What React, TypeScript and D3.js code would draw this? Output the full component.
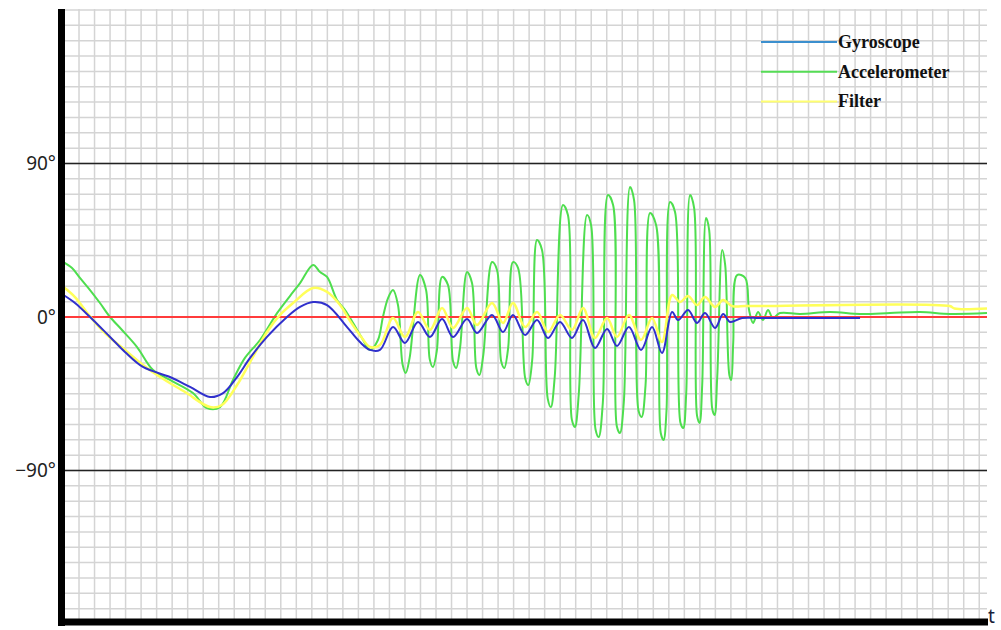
import * as d3 from "d3";
import { useEffect, useRef } from "react";

const width = 1001;
const height = 630;

// time in grid cells, angle in degrees
const gyroscope: [number, number][] = [
  [0.0, 12.9], [0.74, 8.2], [1.71, 0], [3.0, -11.7], [3.96, -20.5], [5.12, -29.3],
  [6.86, -35.2], [8.15, -41.0], [9.44, -46.9], [10.28, -44.6], [11.18, -35.2],
  [12.02, -24.0], [13.11, -11.7], [14.4, 0], [15.24, 5.9], [16.08, 8.8], [16.98, 7.0],
  [18.27, -5.9], [19.1, -14.7], [19.75, -19.3], [20.39, -19.3], [21.23, -5.9],
  [22.0, -15.2], [22.84, -2.9], [23.61, -11.7], [24.39, -1.2], [25.1, -11.7],
  [26.0, -1.2], [26.64, -9.4], [27.61, 1.2], [28.32, -8.8], [28.96, 1.2],
  [29.74, -10.6], [30.51, -1.8], [31.22, -12.3], [31.99, -2.9], [32.76, -12.3],
  [33.47, -1.8], [34.24, -18.2], [35.02, -7.0], [35.66, -17.0], [36.43, -5.9],
  [37.21, -19.3], [37.92, -5.9], [38.56, -21.1], [39.21, 2.9], [39.6, -1.8],
  [40.24, 4.1], [40.82, -3.5], [41.33, 2.3], [41.98, -6.4], [42.5, 1.8],
  [42.95, -2.9], [43.72, -0.6], [44.88, -0.6], [47.46, -0.6], [51.32, -0.6],
];

const accelerometer: [number, number][] = [
  [0.0, 32.2], [0.55, 28.7], [1.06, 22.9], [1.71, 15.8], [2.35, 8.2], [3.0, 0],
  [3.77, -7.6], [4.74, -17.6], [5.77, -31.1], [6.86, -36.9], [8.34, -44.6],
  [9.25, -53.4], [10.08, -52.8], [10.92, -36.9], [11.69, -24.0], [12.66, -13.5],
  [13.76, 2.3], [14.59, 12.3], [15.24, 19.9], [16.08, 30.5], [16.53, 26.4],
  [16.98, 23.5], [17.62, 10.0], [18.14, 4.1], [18.66, -3.5], [19.23, -12.3],
  [19.75, -19.3], [20.26, -13.5], [20.58, 0], [20.91, 11.1], [21.23, 15.8],
  [21.55, 7.0], [21.85, -28], [22.05, -32.8], [22.3, -24],
  [22.97, 24.6], [23.36, 15.8], [23.6, -25], [23.8, -29.3], [24.05, -20],
  [24.39, 23.5], [24.77, 18.8], [25.1, -26], [25.3, -29.9], [25.55, -18],
  [26.0, 26.4], [26.32, 19.9], [26.6, -30], [26.8, -34.0], [27.05, -22],
  [27.61, 32.2], [27.93, 27.6], [28.2, -26], [28.4, -29.9], [28.65, -18],
  [28.96, 32.2], [29.29, 28.7], [29.75, -36], [29.95, -39.9], [30.2, -25],
  [30.51, 45.1], [30.83, 39.3], [31.2, -48], [31.4, -52.8], [31.65, -35],
  [32.18, 65.7], [32.5, 59.8], [32.75, -60], [32.95, -64.5], [33.2, -45],
  [33.73, 59.8], [33.99, 53.9], [34.28, -66], [34.48, -70.4], [34.75, -50],
  [35.08, 71.5], [35.41, 65.7], [35.65, -64], [35.85, -68.0], [36.1, -50],
  [36.5, 76.2], [36.76, 68.6], [37.05, -55], [37.25, -58.6], [37.5, -40],
  [37.79, 61.0], [38.18, 53.9], [38.48, -68], [38.66, -72.1], [38.85, -55],
  [39.08, 67.4], [39.4, 61.6], [39.75, -62], [39.93, -65.1], [40.12, -45],
  [40.37, 71.5], [40.63, 63.9], [40.82, -58], [40.98, -62.1], [41.15, -40],
  [41.4, 58.0], [41.6, 51.0], [41.8, -54], [41.95, -57.5], [42.12, -35],
  [42.44, 39.3], [42.63, 30.5], [42.9, -34], [43.02, -36.9], [43.15, -15],
  [43.4, 24.6], [43.92, 22.9], [44.17, 4.1], [44.43, -3.5], [44.75, 2.9],
  [45.07, -1.8], [45.39, 4.1], [45.71, -0.6], [46.16, 2.3], [47.46, 1.8],
  [49.39, 2.9], [51.32, 1.8], [53.25, 2.3], [55.19, 2.9], [57.12, 1.8], [59.5, 2.3],
];

const filter: [number, number][] = [
  [0.0, 17.6], [0.74, 11.7], [1.58, 1.8], [2.67, -9.4], [3.96, -19.3], [5.12, -28.1],
  [6.22, -35.2], [7.83, -44.0], [9.44, -52.8], [10.21, -51.6], [11.18, -39.9],
  [12.02, -26.4], [13.11, -8.8], [13.95, 1.2], [14.79, 8.2], [16.08, 17.0],
  [16.98, 14.7], [17.82, 7.0], [18.46, -2.3], [19.23, -12.3], [19.75, -17.6],
  [20.39, -16.4], [21.23, -0.6], [22.0, -11.7], [22.84, 2.9], [23.61, -7.6],
  [24.39, 5.3], [25.1, -6.4], [26.0, 5.3], [26.64, -4.7], [27.61, 8.2],
  [28.32, -3.5], [28.96, 8.2], [29.74, -5.9], [30.51, 2.9], [31.22, -8.8],
  [31.99, 1.2], [32.76, -7.6], [33.47, 5.3], [34.24, -12.3], [35.02, -0.6],
  [35.66, -11.7], [36.43, 1.2], [37.21, -13.5], [37.92, -0.6], [38.56, -14.7],
  [39.21, 12.9], [39.72, 8.8], [40.24, 12.3], [40.82, 7.0], [41.33, 11.7],
  [41.98, 5.9], [42.5, 10.0], [43.08, 6.4], [43.92, 6.4], [44.88, 6.4],
  [57.1, 6.4], [57.4, 5.0], [59.5, 5.0],
];

const yLabels = [
  { value: 90, text: "90°" },
  { value: 0, text: "0°" },
  { value: -90, text: "\u221290°" },
];

const legendKeys = ["Gyroscope", "Accelerometer", "Filter"];
const legendColors = ["#3b8fce", "#55dd55", "#ffff70"];

function drawChart(node: SVGSVGElement) {
  const svg = d3.select(node);
  svg.selectAll("*").remove();

  const x = d3.scaleLinear().domain([0, 59.5]).range([63.5, 987]);
  const y = d3.scaleLinear().domain([-180, 180]).range([624, 10]);

  svg.append("rect").attr("width", width).attr("height", height).attr("fill", "white");

  // grid
  const grid = svg.append("g").attr("stroke", "#d4d4d4").attr("stroke-width", 1.5);
  grid
    .selectAll("line.vx")
    .data(d3.range(1, 60))
    .enter()
    .append("line")
    .attr("x1", (d) => x(d))
    .attr("x2", (d) => x(d))
    .attr("y1", 9)
    .attr("y2", 620);
  grid
    .selectAll("line.hy")
    .data(d3.range(-171, 181, 9))
    .enter()
    .append("line")
    .attr("x1", 64)
    .attr("x2", 987)
    .attr("y1", (d) => y(d))
    .attr("y2", (d) => y(d));

  // +-90 lines
  svg
    .selectAll("line.ref")
    .data([90, -90])
    .enter()
    .append("line")
    .attr("x1", 64)
    .attr("x2", 987)
    .attr("y1", (d) => y(d))
    .attr("y2", (d) => y(d))
    .attr("stroke", "#222")
    .attr("stroke-width", 1.5);

  const line = d3
    .line<[number, number]>()
    .x((d) => x(d[0]))
    .y((d) => y(d[1]))
    .curve(d3.curveCatmullRom.alpha(0.5));

  svg
    .append("path")
    .attr("d", line(accelerometer))
    .attr("fill", "none")
    .attr("stroke", "#4ede4e")
    .attr("stroke-width", 2);

  svg
    .append("line")
    .attr("x1", 64)
    .attr("x2", 987)
    .attr("y1", y(0))
    .attr("y2", y(0))
    .attr("stroke", "#ff3b3b")
    .attr("stroke-width", 2);

  svg
    .append("path")
    .attr("d", line(filter))
    .attr("fill", "none")
    .attr("stroke", "#ffff5a")
    .attr("stroke-width", 2.5);

  svg
    .append("path")
    .attr("d", line(gyroscope))
    .attr("fill", "none")
    .attr("stroke", "#3030cc")
    .attr("stroke-width", 2);

  // axes
  svg
    .append("rect")
    .attr("x", 58)
    .attr("y", 9)
    .attr("width", 7)
    .attr("height", 617)
    .attr("fill", "black");
  svg
    .append("rect")
    .attr("x", 58)
    .attr("y", 618.5)
    .attr("width", 930)
    .attr("height", 7)
    .attr("fill", "black");

  svg
    .selectAll("text.ylab")
    .data(yLabels)
    .enter()
    .append("text")
    .attr("x", 56)
    .attr("y", (d) => y(d.value))
    .attr("dy", "0.35em")
    .attr("text-anchor", "end")
    .style("font-family", "'Noto Sans', sans-serif")
    .style("font-size", "19px")
    .attr("fill", "#222")
    .text((d) => d.text);

  svg
    .append("text")
    .attr("x", 988)
    .attr("y", 623)
    .style("font-family", "'Noto Sans', sans-serif")
    .style("font-size", "19px")
    .attr("fill", "#1a1f3a")
    .text("t");

  // legend
  const legendRows = svg
    .selectAll("g.legend-row")
    .data(legendKeys)
    .enter()
    .append("g")
    .classed("legend-row", true);

  legendRows
    .append("line")
    .attr("x1", 761)
    .attr("x2", 837)
    .attr("y1", (d, i) => 42 + i * 29.7)
    .attr("y2", (d, i) => 42 + i * 29.7)
    .attr("stroke", (d, i) => legendColors[i])
    .attr("stroke-width", 2);

  legendRows
    .append("text")
    .attr("x", 838)
    .attr("y", (d, i) => 48 + i * 29.7)
    .style("font-family", "'Liberation Serif', serif")
    .style("font-weight", "bold")
    .style("font-size", "18px")
    .attr("fill", "#111")
    .text((d) => d);
}

export default function App() {
  const ref = useRef<SVGSVGElement>(null);
  useEffect(() => {
    if (ref.current) drawChart(ref.current);
  }, []);
  return (
    <div style={{ position: "absolute", top: 0, left: 0 }}>
      <svg ref={ref} width={width} height={height}></svg>
    </div>
  );
}
